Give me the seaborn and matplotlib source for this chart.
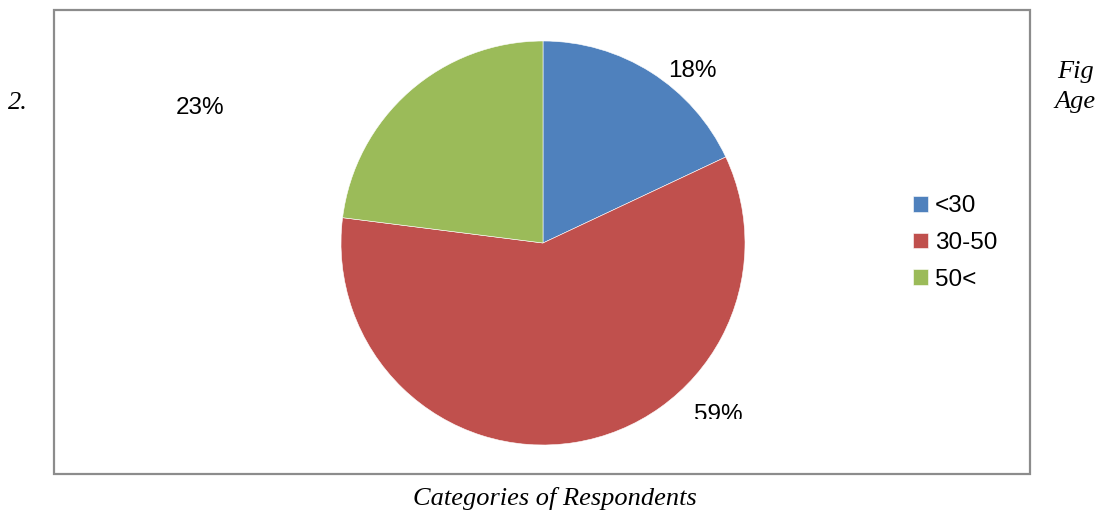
import matplotlib
matplotlib.use('Agg')
import matplotlib.pyplot as plt
import seaborn as sns
from matplotlib.patches import Rectangle
from matplotlib.transforms import Bbox, TransformedBbox

# Data
categories = ['<30', '30-50', '50<']
shares = [18, 59, 23]
pct_labels = ['18%', '59%', '23%']
colors = ['#4F81BD', '#C0504D', '#9BBB59']

# label positions (in pie data units, radius = 1)
label_pos = [(0.74, 0.85), (0.87, -0.85), (-1.70, 0.67)]

sns.set_theme(style='white')
plt.rcParams['font.family'] = ['Liberation Sans', 'DejaVu Sans']
plt.rcParams['text.color'] = 'black'
palette = sns.color_palette(colors)

W, H = 1101, 514
fig = plt.figure(figsize=(W / 100, H / 100), dpi=100)
fig.patch.set_facecolor('white')

# pie axes: center (543, 243) px, radius 202 px
cx, cy, r = 543, 243, 202
ax = fig.add_axes([(cx - r) / W, (H - cy - r) / H, 2 * r / W, 2 * r / H])
wedges, _ = ax.pie(shares, colors=palette, startangle=90, counterclock=False,
                   radius=1, wedgeprops=dict(linewidth=0.4, edgecolor='white'))
ax.set_xlim(-1, 1)
ax.set_ylim(-1, 1)
ax.axis('off')

# clip box for the cut-off bottom label
clip = TransformedBbox(Bbox([[0, (H - 419) / H], [1, 1]]), fig.transFigure)
for lab, (x, y) in zip(pct_labels, label_pos):
    t = ax.text(x, y, lab, ha='center', va='center', fontsize=17.5,
                color='black', clip_on=False)
    if lab == '59%':
        t.set_clip_on(True)
        t.set_clip_box(clip)

# chart border
fig.patches.append(Rectangle((54 / W, (H - 474) / H), 976 / W, 464 / H,
                             transform=fig.transFigure, fill=False,
                             edgecolor='#8c8c8c', linewidth=1.6))

# legend
fig.legend(wedges, categories, loc='center left',
           bbox_to_anchor=(901 / W, (H - 243) / H), frameon=False,
           fontsize=17.5, handlelength=0.6, handleheight=0.6,
           handletextpad=0.3, labelspacing=0.6, borderpad=0,
           labelcolor='black')

# surrounding document text
serif = ['Liberation Serif', 'DejaVu Serif']
fig.text(8 / W, (H - 103) / H, '2.', family=serif, style='italic',
         fontsize=19, va='center', ha='left', color='black')
fig.text(1057 / W, (H - 72) / H, 'Fig', family=serif, style='italic',
         fontsize=19, va='center', ha='left', color='black')
fig.text(1054 / W, (H - 102) / H, 'Age', family=serif, style='italic',
         fontsize=19, va='center', ha='left', color='black')
fig.text(555 / W, (H - 499) / H, 'Categories of Respondents', family=serif,
         style='italic', fontsize=19, va='center', ha='center', color='black')

fig.savefig('out.png', dpi=100, facecolor='white')
